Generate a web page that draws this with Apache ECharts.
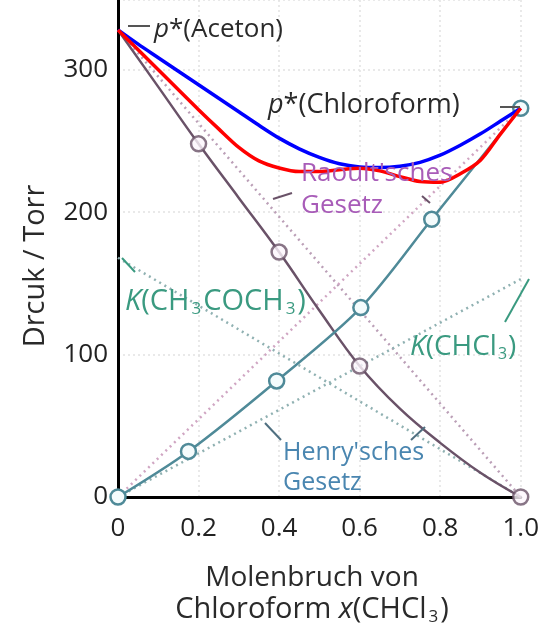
<!DOCTYPE html>
<html>
<head>
<meta charset="utf-8">
<script src="https://cdn.jsdelivr.net/npm/echarts@6/dist/echarts.min.js"></script>
<style>
  html, body { margin: 0; padding: 0; background: #fff; }
  #chart { width: 542px; height: 631px; }
</style>
</head>
<body>
<div id="chart"></div>
<script>
// Mole fraction of chloroform (x axis) and tick labels
const xTicks = [0, 0.2, 0.4, 0.6, 0.8, 1.0];
const yTicks = [0, 100, 200, 300];

// Partial pressure of acetone (Torr)
const acetonX = [0, 0.1, 0.2, 0.3, 0.4, 0.5, 0.6, 0.7, 0.8, 0.9, 1.0];
const acetonP = [328, 288, 248, 210, 172, 131, 92, 62, 38, 17, 0];
// Measured acetone points (open circles)
const acetonMarkX = [0.2, 0.4, 0.6, 1.0];
const acetonMarkP = [248, 172, 92, 0];

// Partial pressure of chloroform (Torr), all measured points
const chloroX = [0, 0.175, 0.394, 0.603, 0.779, 1.0];
const chloroP = [0, 32, 81.5, 133, 195, 273];

// Total pressure: measured (red) and reference curve (blue), every 0.05
const totalX = [0, 0.05, 0.1, 0.15, 0.2, 0.25, 0.3, 0.35, 0.4, 0.45, 0.5,
  0.55, 0.6, 0.65, 0.7, 0.75, 0.8, 0.85, 0.9, 0.95, 1.0];
const redP = [328, 314, 300, 286, 272, 258.5, 245.5, 236, 231, 228.5, 228.5,
  229.8, 230.8, 229, 225, 221.5, 221, 227, 236.5, 255, 273];
const blueP = [328, 318, 308.5, 299, 289.5, 280, 270.5, 261, 252, 244.5, 238.5,
  234, 231.8, 231.3, 232.3, 235, 240, 247, 255, 264, 273];

// Raoult's law lines (ideal) and Henry's law lines
const raoultAceton = [[0, 328], [1, 0]];
const raoultChloro = [[0, 0], [1, 273]];
const henryAceton = [[0, 168], [1, 0]];
const henryChloro = [[0, 0], [1, 153]];

const FONT = 'Open Sans';
const pair = (xs, ys) => xs.map((x, i) => [x, ys[i]]);

const chart = echarts.init(document.getElementById('chart'));

const dotted = (data, color) => ({
  type: 'line', data, symbol: 'none', silent: true,
  lineStyle: { color, width: 2.5, type: [2, 4] }
});

chart.setOption({
  animation: false,
  backgroundColor: '#fff',
  grid: { left: 118, right: 13, top: 0, bottom: 134, containLabel: false },
  xAxis: {
    type: 'value', min: 0, max: 1, interval: 0.2,
    axisLine: { show: true, onZero: false, lineStyle: { color: '#000', width: 3 } },
    axisTick: { show: false },
    axisLabel: {
      color: '#222', fontFamily: FONT, fontSize: 26, margin: 19,
      formatter: v => {
        const i = xTicks.findIndex(t => Math.abs(t - v) < 1e-6);
        if (i < 0) return '';
        return v === 0 ? '0' : xTicks[i].toFixed(1);
      }
    },
    splitLine: { show: true, lineStyle: { color: '#e2e2e2', width: 1.5, type: [2, 3] } }
  },
  yAxis: [{
    type: 'value', min: 0, max: 349, interval: 100,
    axisLine: { show: true, onZero: false, lineStyle: { color: '#000', width: 3 } },
    axisTick: { show: false },
    axisLabel: {
      color: '#222', fontFamily: FONT, fontSize: 26, margin: 10, showMaxLabel: false,
      formatter: v => yTicks.includes(v) ? String(v) : ''
    },
    splitLine: { show: true, lineStyle: { color: '#e2e2e2', width: 1.5, type: [2, 3] } }
  }, {
    type: 'value', min: 0, max: 349, position: 'right',
    axisLine: { show: true, lineStyle: { color: '#000', width: 3 } },
    axisTick: { show: false }, axisLabel: { show: false }, splitLine: { show: false }
  }],
  series: [
    dotted(raoultAceton, '#bb9fb7'),
    dotted(raoultChloro, '#d0a6c3'),
    dotted(henryAceton, '#90b1b2'),
    dotted(henryChloro, '#90b1b2'),
    {
      type: 'line', data: pair(acetonX, acetonP), smooth: 0.4, symbol: 'none',
      lineStyle: { color: '#6a5268', width: 2.5 }
    },
    {
      type: 'scatter', data: pair(acetonMarkX, acetonMarkP), symbol: 'circle', symbolSize: 15,
      itemStyle: { color: '#fdf6fc', borderColor: '#6a5268', borderWidth: 2.5 }, z: 5
    },
    {
      type: 'line', data: pair(chloroX, chloroP), smooth: 0.3, symbol: 'circle', symbolSize: 15,
      showAllSymbol: true,
      lineStyle: { color: '#4f8a98', width: 2.5 },
      itemStyle: { color: '#f4fbfc', borderColor: '#4f8a98', borderWidth: 2.5 }, z: 4
    },
    {
      type: 'line', data: pair(totalX, blueP), smooth: 0.3, symbol: 'none',
      lineStyle: { color: '#0000ff', width: 3.5 }, z: 6
    },
    {
      type: 'line', data: pair(totalX, redP), smooth: 0.3, symbol: 'none',
      lineStyle: { color: '#ff0000', width: 3.5 }, z: 7
    }
  ]
});

// Annotation texts (x = left edge, y = vertical centre) and short leader strokes
const txt = (x, y, text, color, size, rich, align) => ({
  type: 'text', x, y, z: 20,
  style: {
    text, fill: color, font: `${size}px "${FONT}"`, rich: rich || {},
    textAlign: align || 'left', textVerticalAlign: 'middle'
  }
});
const stroke = (x1, y1, x2, y2, color) => ({
  type: 'line', z: 20, shape: { x1, y1, x2, y2 },
  style: { stroke: color, lineWidth: 2 }
});
const it = (c, size) => ({ fontStyle: 'italic', fontFamily: FONT, fontSize: size, fill: c });
const sub = (c, size, side) => ({
  fontFamily: FONT, fontSize: size, fill: c,
  padding: [Math.round(size * 0.9), side, 0, side]
});

const GREEN = '#3a9a80';
const MAG = '#a85cb8';
const BLUE = '#4a86b0';
const INK = '#2a2a2a';

chart.setOption({
  graphic: [
    stroke(128, 26, 150, 26, '#555'),
    txt(154, 30, '{i|p}*(Aceton)', INK, 26, { i: it(INK, 26) }),
    stroke(500, 107, 520, 107, '#555'),
    txt(268, 105, '{i|p}*(Chloroform)', INK, 27, { i: it(INK, 27) }),

    txt(301, 174, "Raoult'sches", MAG, 26),
    txt(301, 206, 'Gesetz', MAG, 26),
    stroke(273, 199, 292, 193, '#6a5268'),
    stroke(422, 196, 430, 203, '#6a5268'),

    txt(125, 302, '{i|K}(CH{s|3}COCH{s|3})', GREEN, 29,
      { i: it(GREEN, 29), s: sub(GREEN, 17, 2) }),
    stroke(122, 258, 135, 272, GREEN),

    txt(410, 347, '{i|K}(CHCl{s|3})', GREEN, 28,
      { i: it(GREEN, 28), s: sub(GREEN, 16, 1) }),
    stroke(505, 322, 529, 279, GREEN),

    txt(283, 453, "Henry'sches", BLUE, 25),
    txt(283, 483, 'Gesetz', BLUE, 25),
    stroke(265, 423, 281, 440, '#4f6f80'),
    stroke(411, 440, 425, 427, '#4f6f80'),

    // axis titles
    {
      type: 'text', x: 36, y: 266, rotation: Math.PI / 2, z: 20,
      style: { text: 'Drcuk / Torr', fill: INK, font: `29px "${FONT}"`,
        textAlign: 'center', textVerticalAlign: 'middle' }
    },
    txt(312, 578, 'Molenbruch von', INK, 28, null, 'center'),
    txt(312, 610, 'Chloroform {i|x}(CHCl{s|3})', INK, 29,
      { i: it(INK, 29), s: sub(INK, 17, 2) }, 'center')
  ]
});
</script>
</body>
</html>
